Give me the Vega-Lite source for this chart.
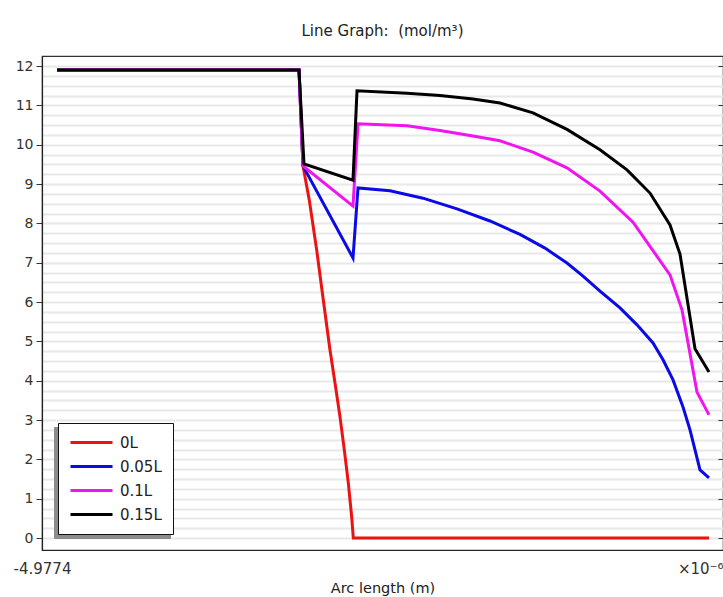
{
  "$schema": "https://vega.github.io/schema/vega-lite/v6.json",
  "autosize": "none",
  "width": 681,
  "height": 494,
  "padding": {"left": 42, "top": 56, "right": 0, "bottom": 47},
  "background": "white",
  "title": {
    "text": "Line Graph:\u00a0 (mol/m³)",
    "font": "DejaVu Sans",
    "fontSize": 15,
    "fontWeight": "normal",
    "color": "#222222",
    "anchor": "middle",
    "frame": "group",
    "offset": 17
  },
  "config": {
    "view": {"stroke": "#333333", "strokeWidth": 1.2},
    "font": "DejaVu Sans"
  },
  "data": {
    "values": [
      {"arc": 15, "conc": 11.90, "series": "0L"},
      {"arc": 257, "conc": 11.90, "series": "0L"},
      {"arc": 261, "conc": 9.46, "series": "0L"},
      {"arc": 267.3, "conc": 8.59, "series": "0L"},
      {"arc": 274.7, "conc": 7.32, "series": "0L"},
      {"arc": 281.3, "conc": 6.05, "series": "0L"},
      {"arc": 288, "conc": 4.78, "series": "0L"},
      {"arc": 293, "conc": 3.94, "series": "0L"},
      {"arc": 298, "conc": 3.08, "series": "0L"},
      {"arc": 302.3, "conc": 2.24, "series": "0L"},
      {"arc": 306.3, "conc": 1.40, "series": "0L"},
      {"arc": 309.7, "conc": 0.53, "series": "0L"},
      {"arc": 311.3, "conc": 0.0, "series": "0L"},
      {"arc": 667, "conc": 0.0, "series": "0L"},

      {"arc": 15, "conc": 11.90, "series": "0.05L"},
      {"arc": 257, "conc": 11.90, "series": "0.05L"},
      {"arc": 261, "conc": 9.46, "series": "0.05L"},
      {"arc": 311, "conc": 7.12, "series": "0.05L"},
      {"arc": 316, "conc": 8.90, "series": "0.05L"},
      {"arc": 348, "conc": 8.83, "series": "0.05L"},
      {"arc": 381, "conc": 8.64, "series": "0.05L"},
      {"arc": 415, "conc": 8.37, "series": "0.05L"},
      {"arc": 448, "conc": 8.06, "series": "0.05L"},
      {"arc": 478, "conc": 7.72, "series": "0.05L"},
      {"arc": 503, "conc": 7.37, "series": "0.05L"},
      {"arc": 525, "conc": 6.99, "series": "0.05L"},
      {"arc": 541, "conc": 6.66, "series": "0.05L"},
      {"arc": 558, "conc": 6.28, "series": "0.05L"},
      {"arc": 578, "conc": 5.85, "series": "0.05L"},
      {"arc": 595, "conc": 5.42, "series": "0.05L"},
      {"arc": 611, "conc": 4.96, "series": "0.05L"},
      {"arc": 621, "conc": 4.53, "series": "0.05L"},
      {"arc": 631, "conc": 4.02, "series": "0.05L"},
      {"arc": 641, "conc": 3.33, "series": "0.05L"},
      {"arc": 648, "conc": 2.75, "series": "0.05L"},
      {"arc": 658, "conc": 1.73, "series": "0.05L"},
      {"arc": 667, "conc": 1.53, "series": "0.05L"},

      {"arc": 15, "conc": 11.90, "series": "0.1L"},
      {"arc": 257, "conc": 11.90, "series": "0.1L"},
      {"arc": 261, "conc": 9.46, "series": "0.1L"},
      {"arc": 311, "conc": 8.44, "series": "0.1L"},
      {"arc": 316, "conc": 10.53, "series": "0.1L"},
      {"arc": 365, "conc": 10.48, "series": "0.1L"},
      {"arc": 398, "conc": 10.36, "series": "0.1L"},
      {"arc": 431, "conc": 10.22, "series": "0.1L"},
      {"arc": 458, "conc": 10.10, "series": "0.1L"},
      {"arc": 491, "conc": 9.81, "series": "0.1L"},
      {"arc": 525, "conc": 9.41, "series": "0.1L"},
      {"arc": 558, "conc": 8.82, "series": "0.1L"},
      {"arc": 591, "conc": 8.03, "series": "0.1L"},
      {"arc": 615, "conc": 7.16, "series": "0.1L"},
      {"arc": 628, "conc": 6.69, "series": "0.1L"},
      {"arc": 640, "conc": 5.80, "series": "0.1L"},
      {"arc": 655, "conc": 3.71, "series": "0.1L"},
      {"arc": 667, "conc": 3.13, "series": "0.1L"},

      {"arc": 15, "conc": 11.90, "series": "0.15L"},
      {"arc": 257, "conc": 11.90, "series": "0.15L"},
      {"arc": 262, "conc": 9.51, "series": "0.15L"},
      {"arc": 311, "conc": 9.10, "series": "0.15L"},
      {"arc": 315, "conc": 11.37, "series": "0.15L"},
      {"arc": 365, "conc": 11.31, "series": "0.15L"},
      {"arc": 398, "conc": 11.25, "series": "0.15L"},
      {"arc": 431, "conc": 11.16, "series": "0.15L"},
      {"arc": 458, "conc": 11.06, "series": "0.15L"},
      {"arc": 491, "conc": 10.81, "series": "0.15L"},
      {"arc": 525, "conc": 10.39, "series": "0.15L"},
      {"arc": 558, "conc": 9.87, "series": "0.15L"},
      {"arc": 585, "conc": 9.36, "series": "0.15L"},
      {"arc": 608, "conc": 8.77, "series": "0.15L"},
      {"arc": 628, "conc": 7.96, "series": "0.15L"},
      {"arc": 638, "conc": 7.22, "series": "0.15L"},
      {"arc": 653, "conc": 4.81, "series": "0.15L"},
      {"arc": 667, "conc": 4.22, "series": "0.15L"}
    ]
  },
  "layer": [
    {
      "mark": {"type": "line", "strokeWidth": 3, "clip": true},
      "encoding": {
        "x": {
          "field": "arc",
          "type": "quantitative",
          "scale": {"domain": [0, 681], "nice": false, "zero": false},
          "axis": {
            "values": [0, 681],
            "labelExpr": "datum.value == 0 ? '-4.9774' : '×10⁻⁶'",
            "labelAlign": {"condition": {"test": "datum.value == 0", "value": "center"}, "value": "right"},
            "labelFlush": false,
            "labelOverlap": false,
            "labelFont": "DejaVu Sans",
            "labelFontSize": 15,
            "labelColor": "#333333",
            "labelPadding": 11,
            "ticks": false,
            "grid": false,
            "domainColor": "#222222",
            "domainWidth": 1.2,
            "title": "Arc length (m)",
            "titleFont": "DejaVu Sans",
            "titleFontSize": 14.5,
            "titleFontWeight": "normal",
            "titleColor": "#222222",
            "titlePadding": 5
          }
        },
        "y": {
          "field": "conc",
          "type": "quantitative",
          "scale": {"domain": [-0.305, 12.255], "nice": false, "zero": false},
          "axis": {
            "values": [0, 0.25, 0.5, 0.75, 1, 1.25, 1.5, 1.75, 2, 2.25, 2.5, 2.75, 3, 3.25, 3.5, 3.75, 4, 4.25, 4.5, 4.75, 5, 5.25, 5.5, 5.75, 6, 6.25, 6.5, 6.75, 7, 7.25, 7.5, 7.75, 8, 8.25, 8.5, 8.75, 9, 9.25, 9.5, 9.75, 10, 10.25, 10.5, 10.75, 11, 11.25, 11.5, 11.75, 12],
            "labelExpr": "datum.value % 1 == 0 ? format(datum.value, 'd') : ''",
            "labelOverlap": false,
            "labelFont": "DejaVu Sans",
            "labelFontSize": 14,
            "labelColor": "#333333",
            "labelPadding": 3,
            "tickSize": 6,
            "tickColor": "#333333",
            "tickOpacity": {"condition": {"test": "datum.value % 1 == 0", "value": 1}, "value": 0},
            "grid": true,
            "gridColor": "#e8e8e8",
            "gridWidth": 2,
            "domainColor": "#222222",
            "domainWidth": 1.2,
            "title": null
          }
        },
        "color": {
          "field": "series",
          "type": "nominal",
          "sort": ["0L", "0.05L", "0.1L", "0.15L"],
          "scale": {"domain": ["0L", "0.05L", "0.1L", "0.15L"], "range": ["#ee1111", "#0a0ae6", "#f014f0", "#000000"]},
          "legend": {
            "orient": "none",
            "legendX": 16,
            "legendY": 367,
            "title": null,
            "fillColor": "white",
            "strokeColor": "#111111",
            "padding": 11,
            "rowPadding": 7,
            "symbolType": "M-1,0H5",
            "symbolSize": 196,
            "symbolStrokeWidth": 3,
            "labelOffset": 34,
            "labelFont": "DejaVu Sans",
            "labelFontSize": 15,
            "labelColor": "#222222",
            "zindex": 2
          }
        }
      }
    },
    {
      "mark": {"type": "line", "opacity": 0},
      "encoding": {
        "x": {"field": "arc", "type": "quantitative"},
        "y": {
          "field": "conc",
          "type": "quantitative",
          "axis": {
            "orient": "right",
            "values": [0, 1, 2, 3, 4, 5, 6, 7, 8, 9, 10, 11, 12],
            "labels": false,
            "domain": false,
            "grid": false,
            "tickSize": 5,
            "offset": -5,
            "tickColor": "#333333",
            "title": null
          }
        },
        "detail": {"field": "series"}
      }
    },
    {
      "data": {"values": [{"entry": "0L"}, {"entry": "0.05L"}, {"entry": "0.1L"}, {"entry": "0.15L"}]},
      "mark": {"type": "point", "opacity": 0},
      "encoding": {
        "shape": {
          "field": "entry",
          "type": "nominal",
          "sort": ["0L", "0.05L", "0.1L", "0.15L"],
          "scale": {"range": ["M-1,0H5", "M-1,0H5", "M-1,0H5", "M-1,0H5"]},
          "legend": {
            "orient": "none",
            "legendX": 12,
            "legendY": 371,
            "title": null,
            "fillColor": "#8c8c8c",
            "strokeColor": "#8c8c8c",
            "padding": 11,
            "rowPadding": 7,
            "symbolSize": 196,
            "symbolStrokeWidth": 3,
            "symbolOpacity": 0,
            "labelExpr": "''",
            "labelOffset": 77,
            "labelFont": "DejaVu Sans",
            "labelFontSize": 15,
            "zindex": 1
          }
        }
      }
    }
  ],
  "resolve": {"axis": {"y": "independent"}}
}
